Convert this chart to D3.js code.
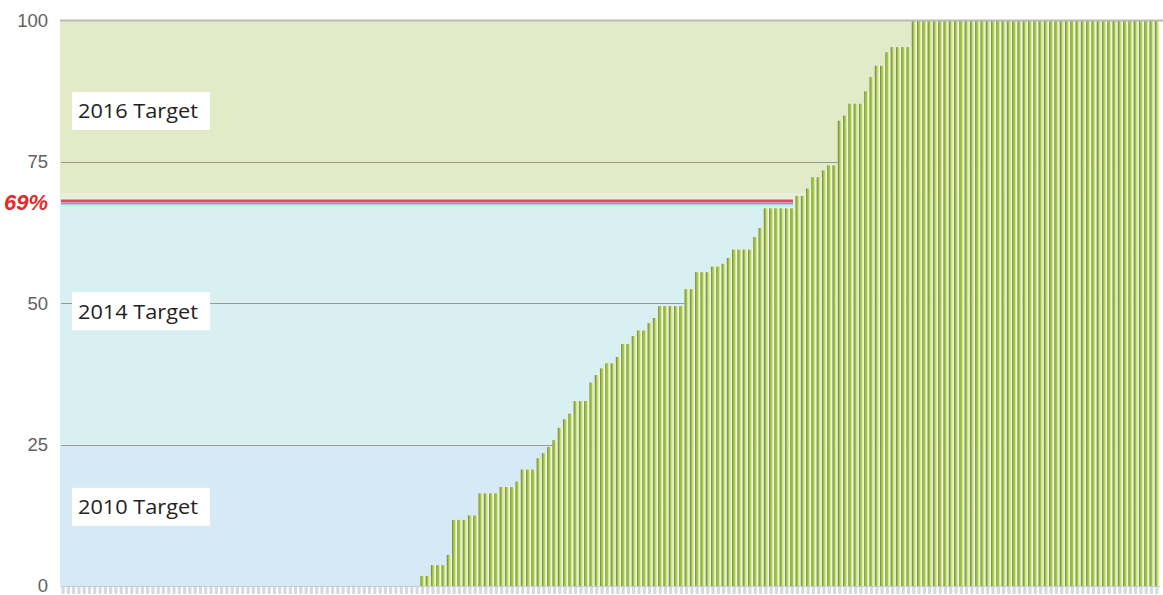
<!DOCTYPE html>
<html>
<head>
<meta charset="utf-8">
<script src="https://cdn.jsdelivr.net/npm/d3@7/dist/d3.min.js"></script>
<style>
  html, body { margin: 0; padding: 0; background: #ffffff; }
  svg { display: block; }
</style>
</head>
<body>
<svg id="chart" width="1163" height="595"></svg>
<script>
// ---------------- DATA ----------------
const values = [
  0,0,0,0,0,0,0,0,0,0, 0,0,0,0,0,0,0,0,0,0,
  0,0,0,0,0,0,0,0,0,0, 0,0,0,0,0,0,0,0,0,0,
  0,0,0,0,0,0,0,0,0,0, 0,0,0,0,0,0,0,0,0,0,
  0,0,0,0,0,0,0,0,
  1.8,1.8,3.7,3.7,3.7,5.5,11.7,11.7,11.7,12.5,
  12.5,16.4,16.4,16.4,16.4,17.5,17.5,17.5,18.5,20.6,
  20.6,20.6,22.6,23.5,24.6,25.8,28,29.5,30.5,32.7,
  32.7,32.7,36,37.3,38.5,39.4,39.4,40.5,42.8,42.8,
  44.2,45.2,45.2,46.5,47.4,49.5,49.5,49.5,49.5,49.5,
  52.5,52.5,55.5,55.5,55.5,56.5,56.5,57,58,59.5,
  59.5,59.5,59.5,61.7,63.3,66.8,66.8,66.8,66.8,66.8,
  66.8,69,69,70.3,72.3,72.3,73.5,74.4,74.4,82.3,
  83.2,85.3,85.3,85.3,87.5,90,92,92,94.4,95.3,
  95.3,95.3,95.3,
  100,100,100,100,100,100,100,100,100,100,
  100,100,100,100,100,100,100,100,100,100,
  100,100,100,100,100,100,100,100,100,100,
  100,100,100,100,100,100,100,100,100,100,
  100,100,100,100,100,100,100
];
const categories = values.map((d, i) => "Item " + (i + 1));
const yTicks = [0, 25, 50, 75, 100];
const gridValues = [25, 50, 75];
const bandEdges = [0, 25, 69.4, 100];
const targetLabels = ["2010 Target", "2014 Target", "2016 Target"];
const targetLabelValues = [14, 48.6, 84];
const currentValue = 67.9;
const currentLabel = "69%";

// ---------------- LAYOUT ----------------
(function () {
const svg = d3.select("#chart");
const pL = 61, pR = 1160, pT = 20.5, pB = 586;

const x = d3.scaleBand().domain(categories).range([pL, pR]).padding(0);
const y = d3.scaleLinear().domain([0, 100]).range([pB, pT]);

// gradient for bars
const defs = svg.append("defs");
const grad = defs.append("linearGradient").attr("id", "barGrad")
  .attr("x1", "0%").attr("x2", "100%").attr("y1", "0%").attr("y2", "0%");
[["0%", "#7c8a6c"], ["20%", "#84965e"], ["28%", "#98c034"], ["55%", "#a6cb3e"],
 ["65%", "#cfe585"], ["100%", "#e8f3bd"]].forEach(s =>
  grad.append("stop").attr("offset", s[0]).attr("stop-color", s[1]));

// background bands
const bandColors = ["#d5eaf4", "#d9f0f3", "#e3eac7"];
svg.append("g").selectAll("rect").data(d3.pairs(bandEdges)).join("rect")
  .attr("x", pL - 1)
  .attr("width", pR - pL + 1)
  .attr("y", d => y(d[1]))
  .attr("height", d => y(d[0]) - y(d[1]))
  .attr("fill", (d, i) => bandColors[i]);

// pale strip under the top band
svg.append("rect").attr("x", pL - 1).attr("width", pR - pL + 1)
  .attr("y", y(69.4)).attr("height", y(currentValue) - y(69.4) - 2)
  .attr("fill", "#e6f0d8");

// gridlines
svg.append("g").selectAll("line").data(gridValues).join("line")
  .attr("x1", pL).attr("x2", pR)
  .attr("y1", d => Math.round(y(d)) + 0.5).attr("y2", d => Math.round(y(d)) + 0.5)
  .attr("stroke", "#9d979c").attr("stroke-width", 1);

// current-level line (red over blue)
svg.append("line").attr("x1", pL).attr("x2", 793)
  .attr("y1", y(currentValue) - 1).attr("y2", y(currentValue) - 1)
  .attr("stroke", "#de4a66").attr("stroke-width", 3);
svg.append("line").attr("x1", pL).attr("x2", 793)
  .attr("y1", y(currentValue) + 1.6).attr("y2", y(currentValue) + 1.6)
  .attr("stroke", "#7f98c6").attr("stroke-width", 1.5);
svg.append("line").attr("x1", pL).attr("x2", 793)
  .attr("y1", y(currentValue) + 3.6).attr("y2", y(currentValue) + 3.6)
  .attr("stroke", "#c6f0e4").attr("stroke-width", 2);

// bars: white backing + gradient bar
const bars = svg.append("g");
bars.selectAll("rect.back").data(values).join("rect").attr("class", "back")
  .attr("x", (d, i) => x(categories[i]))
  .attr("width", x.bandwidth())
  .attr("y", d => y(d))
  .attr("height", d => pB - y(d))
  .attr("fill", "#ffffff")
  .attr("opacity", d => d > 0 ? 1 : 0);
bars.selectAll("rect.bar").data(values).join("rect").attr("class", "bar")
  .attr("x", (d, i) => x(categories[i]))
  .attr("width", x.bandwidth() * 0.84)
  .attr("y", d => y(d))
  .attr("height", d => pB - y(d))
  .attr("fill", "url(#barGrad)");

// baseline ticks
svg.append("line").attr("x1", pL).attr("x2", pR)
  .attr("y1", pB + 0.5).attr("y2", pB + 0.5)
  .attr("stroke", "#c4ccd4").attr("stroke-width", 1);
svg.append("g").selectAll("rect").data(categories).join("rect")
  .attr("x", d => x(d) + 0.5)
  .attr("width", x.bandwidth() * 0.6)
  .attr("y", pB + 1)
  .attr("height", 7)
  .attr("fill", "#d3dae1");

// top border
svg.append("line").attr("x1", pL - 1).attr("x2", 1163)
  .attr("y1", pT).attr("y2", pT)
  .attr("stroke", "#b9bab6").attr("stroke-width", 2);

// target labels with white boxes
const lbl = svg.append("g").selectAll("g").data(targetLabels).join("g")
  .attr("transform", (d, i) => `translate(72, ${y(targetLabelValues[i])})`);
lbl.append("rect").attr("x", 0).attr("y", -19).attr("width", 138).attr("height", 38)
  .attr("fill", "#ffffff");
lbl.append("text").text(d => d)
  .attr("x", 6).attr("y", 7.5)
  .attr("font-family", "Open Sans, sans-serif")
  .attr("font-size", 20.5)
  .attr("textLength", 120).attr("lengthAdjust", "spacingAndGlyphs")
  .attr("fill", "#222222");

// y axis
const yAxis = d3.axisLeft(y).tickValues(yTicks).tickSize(0).tickPadding(0)
  .tickFormat(d3.format("d"));
const ya = svg.append("g").attr("transform", "translate(48,0)").call(yAxis);
ya.select(".domain").remove();
ya.selectAll("text")
  .attr("font-family", "Liberation Sans, Arial, sans-serif")
  .attr("font-size", 18.5)
  .attr("fill", "#626262");

// current level label
svg.append("text").text(currentLabel)
  .attr("x", 4).attr("y", y(currentValue) + 8)
  .attr("font-family", "Liberation Sans, Arial, sans-serif")
  .attr("font-weight", "bold").attr("font-style", "italic")
  .attr("font-size", 22)
  .attr("fill", "#e42a2a");
})();
</script>
</body>
</html>
